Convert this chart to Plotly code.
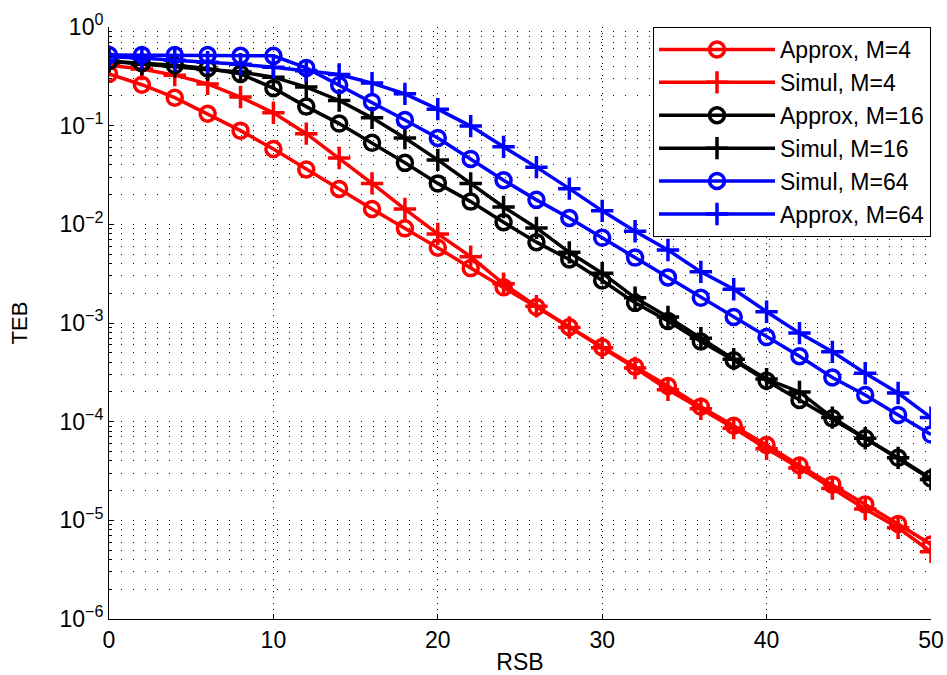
import plotly.graph_objects as go

rsb = list(range(0, 51, 2))

approx_m4 = [0.335, 0.26, 0.192, 0.132, 0.089, 0.058, 0.036, 0.0228, 0.0143, 0.0091,
             0.0058, 0.0036, 0.0023, 0.00145, 0.00091, 0.00057, 0.00036, 0.00023,
             0.000142, 9.1e-5, 5.8e-5, 3.6e-5, 2.3e-5, 1.45e-5, 9.2e-6, 5.7e-6]
simul_m4 = [0.41, 0.375, 0.325, 0.265, 0.195, 0.135, 0.083, 0.047, 0.026, 0.0143,
            0.0080, 0.0047, 0.0025, 0.00148, 0.00090, 0.00056, 0.00035, 0.00021,
            0.000135, 8.6e-5, 5.3e-5, 3.4e-5, 2.1e-5, 1.3e-5, 8.4e-6, 4.8e-6]
approx_m16 = [0.45, 0.43, 0.41, 0.38, 0.335, 0.24, 0.156, 0.105, 0.067, 0.042,
              0.026, 0.017, 0.0105, 0.0066, 0.0044, 0.0027, 0.0016, 0.00105,
              0.00065, 0.00042, 0.00026, 0.000166, 0.000108, 6.8e-5, 4.3e-5, 2.65e-5]
simul_m16 = [0.45, 0.42, 0.40, 0.37, 0.35, 0.31, 0.246, 0.18, 0.12, 0.075,
             0.045, 0.026, 0.015, 0.0092, 0.0052, 0.0032, 0.0018, 0.00115,
             0.0007, 0.00043, 0.00027, 0.0002, 0.00011, 6.8e-5, 4.3e-5, 2.6e-5]
simul_m64 = [0.52, 0.52, 0.52, 0.52, 0.51, 0.51, 0.385, 0.258, 0.174, 0.114,
             0.075, 0.046, 0.028, 0.0177, 0.0116, 0.0073, 0.0046, 0.0029,
             0.0018, 0.00115, 0.00072, 0.00046, 0.00028, 0.000186, 0.000117, 7.4e-5]
approx_m64 = [0.50, 0.485, 0.46, 0.44, 0.42, 0.39, 0.36, 0.33, 0.27, 0.21,
              0.147, 0.099, 0.061, 0.038, 0.023, 0.0137, 0.0085, 0.0055,
              0.0033, 0.0022, 0.0013, 0.00079, 0.00051, 0.00031, 0.000195, 0.00011]

series = [
    ("Approx, M=4", approx_m4, "#ff0000", "circle-open"),
    ("Simul, M=4", simul_m4, "#ff0000", "cross-thin-open"),
    ("Approx, M=16", approx_m16, "#000000", "circle-open"),
    ("Simul, M=16", simul_m16, "#000000", "cross-thin-open"),
    ("Simul, M=64", simul_m64, "#0000ff", "circle-open"),
    ("Approx, M=64", approx_m64, "#0000ff", "cross-thin-open"),
]

y_tickvals = [1e-6, 1e-5, 1e-4, 1e-3, 1e-2, 1e-1, 1]
y_ticktext = ["10<sup>\u22126</sup>", "10<sup>\u22125</sup>", "10<sup>\u22124</sup>",
              "10<sup>\u22123</sup>", "10<sup>\u22122</sup>", "10<sup>\u22121</sup>",
              "10<sup>0</sup>"]
y_minor = [m * 10.0 ** e for e in range(-6, 0) for m in range(2, 10)]
x_tickvals = [0, 10, 20, 30, 40, 50]

fig = go.Figure()
for name, vals, color, sym in series:
    fig.add_trace(go.Scatter(
        x=rsb, y=vals, name=name, mode="lines+markers",
        line=dict(color=color, width=3.5),
        marker=dict(symbol=sym, size=15 if sym == "circle-open" else 16,
                    color=color, line=dict(color=color, width=3.5)),
    ))

font = "Liberation Sans, Arial, Helvetica, sans-serif"
fig.update_layout(
    width=947, height=675,
    margin=dict(l=109, r=16, t=27, b=56),
    paper_bgcolor="white", plot_bgcolor="white",
    font=dict(family=font, size=23, color="black"),
    showlegend=True,
    legend=dict(x=1, y=1, xanchor="right", yanchor="top",
                bgcolor="white", bordercolor="black", borderwidth=1,
                font=dict(family=font, size=23, color="black"),
                itemwidth=116),
    xaxis=dict(
        range=[0, 50], tickvals=x_tickvals, ticks="inside", ticklen=5,
        tickcolor="black", showline=True, linecolor="black", linewidth=1,
        mirror=False, showgrid=True, gridcolor="black", griddash="1px,5px",
        gridwidth=1, zeroline=False, automargin=False,
        title=dict(text="RSB", standoff=2, font=dict(size=23)),
        tickfont=dict(size=23),
    ),
    yaxis=dict(
        type="log", range=[-6, 0], tickvals=y_tickvals, ticktext=y_ticktext,
        ticks="inside", ticklen=5, tickcolor="black",
        showline=True, linecolor="black", linewidth=1, mirror=False,
        showgrid=True, gridcolor="black", griddash="1px,11px", gridwidth=1,
        zeroline=False, automargin=False,
        minor=dict(tickvals=y_minor, ticks="inside", ticklen=3, tickcolor="black",
                   showgrid=True, gridcolor="black", griddash="1px,11px", gridwidth=1),
        title=dict(text="TEB", standoff=25, font=dict(size=22)),
        tickfont=dict(size=23),
    ),
)

fig.write_html("out.html")
